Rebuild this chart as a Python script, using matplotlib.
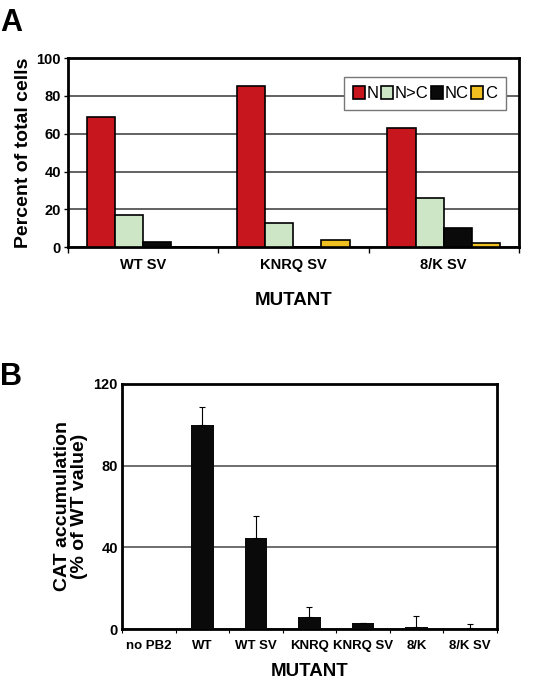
import numpy as np
import matplotlib.pyplot as plt

plt.rcParams['font.family'] = ['Liberation Sans', 'DejaVu Sans']

# panel A data
groups_a = ['WT SV', 'KNRQ SV', '8/K SV']
series_a = ['N', 'N>C', 'NC', 'C']
vals_n = [69, 85, 63]
vals_nc_gt = [17, 13, 26]
vals_nc = [3, 0, 10]
vals_c = [0, 4, 2]
colors_a = ['#c8161e', '#cde6c6', '#0a0a0a', '#f0c020']

# panel B data
groups_b = ['no PB2', 'WT', 'WT SV', 'KNRQ', 'KNRQ SV', '8/K', '8/K SV']
cat_vals = [0, 100, 44.5, 6, 3, 1, 0.3]
cat_err = [0, 8.6, 11, 5, 0, 5.6, 2.1]

fig = plt.figure(figsize=(5.52, 6.83), dpi=100)

# ---- A ----
ax1 = fig.add_axes([0.123, 0.638, 0.817, 0.277])
x = np.arange(len(groups_a))
w = 0.187
allvals = [vals_n, vals_nc_gt, vals_nc, vals_c]
for i, (lab, v, c) in enumerate(zip(series_a, allvals, colors_a)):
    ax1.bar(x + (i - 1.5) * w, v, w, color=c, edgecolor='black', linewidth=1.2,
            label=lab, zorder=3)
ax1.set_xlim(-0.5, 2.5)
ax1.set_ylim(0, 100)
ax1.set_yticks([0, 20, 40, 60, 80, 100])
ax1.yaxis.grid(True, color='#555555', linewidth=1.3, zorder=0)
ax1.set_xticks(x)
ax1.set_xticklabels(groups_a, fontsize=10.5, fontweight='bold')
ax1.set_xticks([-0.5, 0.5, 1.5, 2.5], minor=True)
ax1.tick_params(axis='x', which='major', length=0, pad=8)
ax1.tick_params(axis='x', which='minor', length=4, width=1)
for t in ax1.get_yticklabels():
    t.set_fontweight('bold')
    t.set_fontsize(10.5)
ax1.tick_params(axis='y', length=3, width=1, pad=2)
ax1.set_ylabel('Percent of total cells', fontsize=14, fontweight='bold', labelpad=3)
ax1.set_xlabel('MUTANT', fontsize=13.5, fontweight='bold', labelpad=14)
for s in ax1.spines.values():
    s.set_linewidth(2)
leg = ax1.legend(ncol=4, loc='upper right', bbox_to_anchor=(0.972, 0.9),
                 fontsize=12, handlelength=0.7, handleheight=0.8,
                 handletextpad=0.12, columnspacing=0.15, fancybox=False,
                 framealpha=1, borderpad=0.55, borderaxespad=0)
leg.get_frame().set_edgecolor('#777777')
leg.get_frame().set_linewidth(1)
fig.text(0.0, 0.955, 'A', fontsize=22, fontweight='bold')

# ---- B ----
ax2 = fig.add_axes([0.221, 0.079, 0.679, 0.359])
xb = np.arange(len(groups_b))
ax2.bar(xb, cat_vals, 0.42, color='#0a0a0a', zorder=3)
ax2.errorbar(xb, cat_vals, yerr=[np.zeros(len(cat_err)), cat_err], fmt='none',
             ecolor='black', elinewidth=0.8, capsize=2.5, capthick=0.8, zorder=4)
ax2.set_xlim(-0.5, 6.5)
ax2.set_ylim(0, 120)
ax2.set_yticks([0, 40, 80, 120])
ax2.yaxis.grid(True, color='#555555', linewidth=1.2, zorder=0)
ax2.set_xticks(xb)
ax2.set_xticklabels(groups_b, fontsize=9.5, fontweight='bold')
ax2.set_xticks(np.arange(-0.5, 7, 1), minor=True)
ax2.tick_params(axis='x', which='major', length=0, pad=8)
ax2.tick_params(axis='x', which='minor', length=3, width=0.8)
ax2.tick_params(axis='y', length=0, pad=3)
for t in ax2.get_yticklabels():
    t.set_fontweight('bold')
    t.set_fontsize(10.5)
ax2.set_ylabel('CAT accumulation\n(% of WT value)', fontsize=14, fontweight='bold',
               labelpad=4, linespacing=1.0)
ax2.set_xlabel('MUTANT', fontsize=13.5, fontweight='bold', labelpad=8)
for s in ax2.spines.values():
    s.set_linewidth(2)
fig.text(0.0, 0.437, 'B', fontsize=22, fontweight='bold')

fig.savefig('out.png', dpi=100)
